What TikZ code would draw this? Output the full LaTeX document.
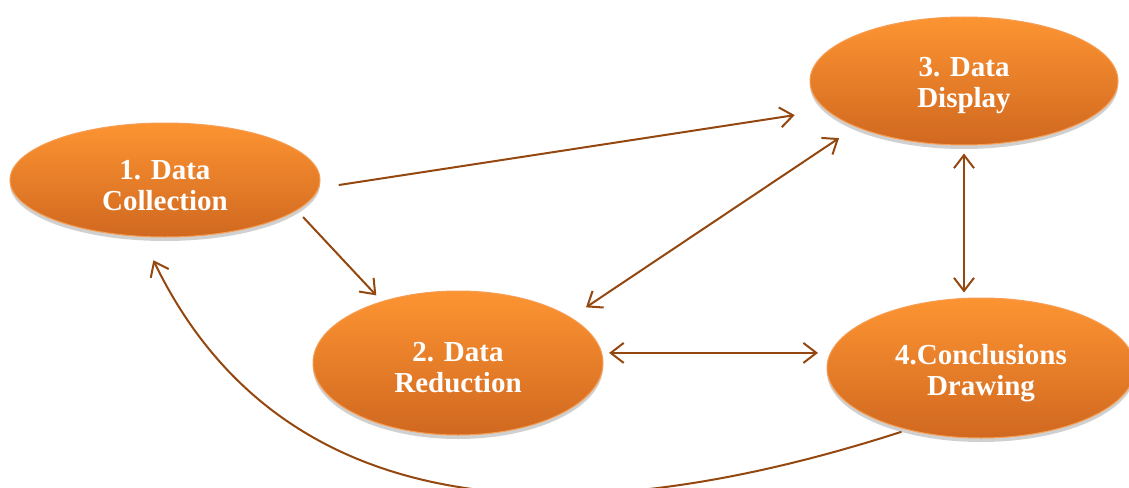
\documentclass[tikz,border=0pt]{standalone}
\usepackage{fontspec}
\setmainfont{Liberation Serif}
\usetikzlibrary{shapes.geometric,arrows.meta,shadows}
\definecolor{arr}{RGB}{148,72,16}
\definecolor{otop}{RGB}{253,148,50}
\definecolor{obot}{RGB}{208,104,32}
\definecolor{oedge}{RGB}{246,158,84}
\begin{document}
\begin{tikzpicture}[x=1pt,y=-1pt,
  >={Straight Barb[length=13pt,width=20pt]},
  stage/.style={ellipse, draw=oedge, line width=1pt, top color=otop, bottom color=obot,
    inner sep=0pt,
    drop shadow={shadow xshift=0pt, shadow yshift=-4pt, opacity=0.3, fill=black!60}},
  lbl/.style={text=white, font=\bfseries\fontsize{29}{31}\selectfont, align=center, inner sep=0pt},
  link/.style={draw=arr, line width=2pt}]
\useasboundingbox (0,0) rectangle (1129,487);
\clip (0,0) rectangle (1129,487);
\fill[white] (0,0) rectangle (1129,487);

\node[stage, minimum width=310pt, minimum height=114pt] (n1) at (165,180) {};
\node[stage, minimum width=290pt, minimum height=144pt] (n2) at (458,363) {};
\node[stage, minimum width=308pt, minimum height=128pt] (n3) at (964,81) {};
\node[stage, minimum width=308pt, minimum height=140pt] (n4) at (981,368) {};
\node[lbl] (t1) at ([yshift=-6pt]n1.center) {1. Data\\Collection};
\node[lbl] (t2) at ([yshift=-5pt]n2.center) {2. Data\\Reduction};
\node[lbl] (t3) at ([yshift=-5pt]n3.center) {3. Data\\Display};
\node[lbl] (t4) at ([yshift=-5pt]n4.center) {4.Conclusions\\Drawing};

\draw[link, ->, shorten <=20pt, shorten >=32pt] (n1.-3) -- (n3.192);
\draw[link, ->, shorten <=9pt, shorten >=8pt] (n1.-13.7) -- (n2.141.7);
\draw[link, <->, shorten <=18pt, shorten >=20pt] (n2.22.3) -- (n3.203.2);
\draw[link, <->, shorten <=8pt, shorten >=5pt] (n3.south) -- (n3.south |- n4.north);
\draw[link, <->, shorten <=7pt, shorten >=8.5pt] (n2.4.4) -- (n2.4.4 -| n4.west);
\draw[link, ->, shorten <=6pt, shorten >=26pt] (n4.220) .. controls (575,537) and (283,528) .. (n1.248);
\end{tikzpicture}
\end{document}
